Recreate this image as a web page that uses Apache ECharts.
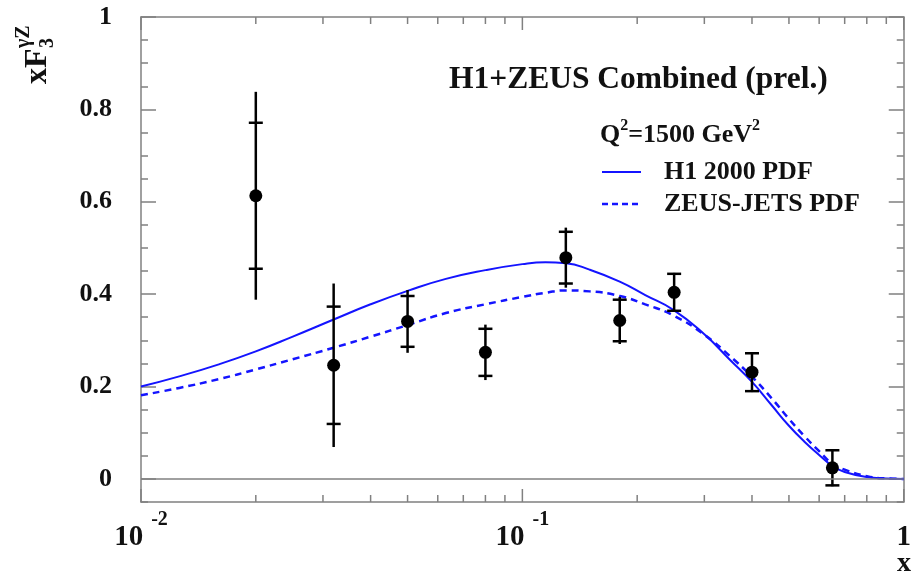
<!DOCTYPE html>
<html><head><meta charset="utf-8">
<script src="https://cdn.jsdelivr.net/npm/echarts@6/dist/echarts.min.js"></script>
<style>html,body{margin:0;padding:0;background:#fff}#c{width:914px;height:574px}</style>
</head><body><div id="c"></div>
<script>
// ---- data ----
const pointX = [0.02, 0.032, 0.05, 0.08, 0.13, 0.18, 0.25, 0.4, 0.65];
const pointY = [0.613, 0.246, 0.341, 0.274, 0.479, 0.343, 0.404, 0.231, 0.024];
const statErr = [0.158, 0.127, 0.055, 0.051, 0.056, 0.045, 0.040, 0.041, 0.038];
const totErr  = [0.225, 0.177, 0.068, 0.060, 0.065, 0.051, 0.042, 0.043, 0.040];

const curveX = [0.01, 0.0126, 0.016, 0.02, 0.025, 0.032, 0.04, 0.05, 0.063, 0.08, 0.1, 0.115, 0.13, 0.15, 0.18, 0.21, 0.25, 0.3, 0.35, 0.4, 0.45, 0.5, 0.55, 0.6, 0.65, 0.7, 0.8, 0.9, 1.0];
const h1Curve = [0.200, 0.222, 0.248, 0.276, 0.308, 0.345, 0.378, 0.407, 0.433, 0.452, 0.465, 0.469, 0.467, 0.453, 0.427, 0.398, 0.365, 0.313, 0.258, 0.210, 0.160, 0.115, 0.080, 0.052, 0.028, 0.015, 0.004, 0.001, 0.0];
const zeusCurve = [0.181, 0.197, 0.216, 0.237, 0.259, 0.284, 0.308, 0.333, 0.359, 0.378, 0.394, 0.403, 0.408, 0.406, 0.396, 0.378, 0.353, 0.312, 0.266, 0.221, 0.175, 0.130, 0.092, 0.060, 0.033, 0.020, 0.006, 0.001, 0.0];

const xMajorTicks = [0.01, 0.1, 1];
const xMinorTicks = [0.02, 0.03, 0.04, 0.05, 0.06, 0.07, 0.08, 0.09, 0.2, 0.3, 0.4, 0.5, 0.6, 0.7, 0.8, 0.9];
const yMajorTicks = [0, 0.2, 0.4, 0.6, 0.8, 1];
const X_MIN = 0.01, X_MAX = 1, Y_MIN = -0.05, Y_MAX = 1;

const legendNames = ['H1 2000 PDF', 'ZEUS-JETS PDF'];
const titleText = 'H1+ZEUS Combined (prel.)';

// ---- style ----
const FONT = "'Liberation Serif', 'Times New Roman', serif";
const GRAY = '#808080';
const BLUE = '#1414ff';
const INK = '#111';
const DASH = [7, 5];
const MAJOR_LEN = 13, MINOR_LEN = 7;

const chart = echarts.init(document.getElementById('c'), null, {renderer: 'canvas'});

function xLabel(v) {
  const e = Math.round(Math.log10(v));
  if (e === 0) return '{b|1}';
  return '{b|10}{s|' + e + '}';
}
const xRich = {
  b: {fontFamily: FONT, fontWeight: 'bold', fontSize: 29, color: INK, lineHeight: 42, verticalAlign: 'bottom'},
  s: {fontFamily: FONT, fontWeight: 'bold', fontSize: 20, color: INK, lineHeight: 42, verticalAlign: 'top', padding: [0, 0, 0, 8]}
};

const axisLineStyle = {color: GRAY, width: 1.5};

const xTickData = xMajorTicks.map(v => [v, 0, 1]).concat(xMinorTicks.map(v => [v, 0, 0]));

const option = {
  animation: false,
  backgroundColor: '#fff',
  grid: {left: 141, right: 6, top: 17, bottom: 72, containLabel: false},
  xAxis: [
    {type: 'log', logBase: 10, min: X_MIN, max: X_MAX, position: 'bottom',
     axisLine: {show: true, onZero: false, lineStyle: axisLineStyle},
     axisTick: {show: false},
     axisLabel: {show: true, margin: 8, formatter: xLabel, rich: xRich, showMinLabel: true, showMaxLabel: true},
     splitLine: {show: false}, minorTick: {show: false}},
    {type: 'log', logBase: 10, min: X_MIN, max: X_MAX, position: 'top',
     axisLine: {show: true, onZero: false, lineStyle: axisLineStyle},
     axisTick: {show: false},
     axisLabel: {show: false}, splitLine: {show: false}}
  ],
  yAxis: [
    {type: 'value', min: Y_MIN, max: Y_MAX, interval: 0.05, position: 'left',
     axisLine: {show: true, onZero: false, lineStyle: axisLineStyle},
     axisTick: {show: true, inside: true, length: 7, lineStyle: axisLineStyle},
     axisLabel: {show: true, margin: 29, fontFamily: FONT, fontWeight: 'bold', fontSize: 26, color: INK,
       formatter: function (v) {
         const r = v / 0.2;
         if (Math.abs(r - Math.round(r)) < 1e-6 && v > -0.01) return String(Math.round(v * 10) / 10);
         return '';
       }},
     splitLine: {show: false}},
    {type: 'value', min: Y_MIN, max: Y_MAX, position: 'left',
     axisLine: {show: false, onZero: false},
     axisTick: {show: true, inside: true, length: 15, lineStyle: axisLineStyle, customValues: yMajorTicks},
     axisLabel: {show: false, customValues: yMajorTicks}, splitLine: {show: false}},
    {type: 'value', min: Y_MIN, max: Y_MAX, interval: 0.05, position: 'right',
     axisLine: {show: true, onZero: false, lineStyle: axisLineStyle},
     axisTick: {show: true, inside: true, length: 7, lineStyle: axisLineStyle},
     axisLabel: {show: false}, splitLine: {show: false}},
    {type: 'value', min: Y_MIN, max: Y_MAX, position: 'right',
     axisLine: {show: false, onZero: false},
     axisTick: {show: true, inside: true, length: 15, lineStyle: axisLineStyle, customValues: yMajorTicks},
     axisLabel: {show: false, customValues: yMajorTicks}, splitLine: {show: false}}
  ],
  graphic: [
    {type: 'text', x: 449, y: 80, style: {text: titleText, font: 'bold 31.5px ' + FONT, fill: INK, verticalAlign: 'middle'}},
    {type: 'text', x: 600, y: 133, style: {
      text: '{b|Q}{s|2}{b|=1500 GeV}{s|2}', verticalAlign: 'middle',
      rich: {
        b: {fontFamily: FONT, fontWeight: 'bold', fontSize: 26, fill: INK, lineHeight: 30, verticalAlign: 'bottom'},
        s: {fontFamily: FONT, fontWeight: 'bold', fontSize: 16, fill: INK, lineHeight: 30, verticalAlign: 'top'}
      }}},
    // legend keys
    {type: 'line', shape: {x1: 602, y1: 172, x2: 641, y2: 172}, style: {stroke: BLUE, lineWidth: 2}},
    {type: 'text', x: 664, y: 172, style: {text: legendNames[0], font: 'bold 26px ' + FONT, fill: INK, verticalAlign: 'middle'}},
    {type: 'line', shape: {x1: 602, y1: 204, x2: 641, y2: 204}, style: {stroke: BLUE, lineWidth: 2.5, lineDash: [6, 4]}},
    {type: 'text', x: 664, y: 204, style: {text: legendNames[1], font: 'bold 26px ' + FONT, fill: INK, verticalAlign: 'middle'}},
    // y axis name
    {type: 'group', x: 38, y: 84, rotation: Math.PI / 2, children: [
      {type: 'text', x: 0, y: 0, style: {text: 'xF', font: 'bold 32px ' + FONT, fill: INK, verticalAlign: 'middle', align: 'left'}},
      {type: 'text', x: 36, y: 10, style: {text: '3', font: 'bold 20px ' + FONT, fill: INK, verticalAlign: 'middle', align: 'left'}},
      {type: 'text', x: 36, y: -14, style: {text: 'γZ', font: 'bold 20px ' + FONT, fill: INK, verticalAlign: 'middle', align: 'left'}}
    ]},
    {type: 'text', x: 904, y: 564, style: {text: 'x', font: 'bold 28px ' + FONT, fill: INK, verticalAlign: 'middle', align: 'center'}}
  ],
  series: [
    {name: legendNames[0], type: 'line', xAxisIndex: 0, yAxisIndex: 0, smooth: true, symbol: 'none', showSymbol: false,
     lineStyle: {color: BLUE, width: 2}, itemStyle: {color: BLUE},
     data: curveX.map((x, i) => [x, h1Curve[i]]), z: 3},
    {name: legendNames[1], type: 'line', xAxisIndex: 0, yAxisIndex: 0, smooth: true, symbol: 'none', showSymbol: false,
     lineStyle: {color: BLUE, width: 2.5, type: DASH}, itemStyle: {color: BLUE},
     data: curveX.map((x, i) => [x, zeusCurve[i]]), z: 3},
    {name: 'xTicks', type: 'custom', xAxisIndex: 0, yAxisIndex: 0, silent: true, clip: false,
     data: xTickData, encode: {x: 0, y: 1},
     renderItem: function (params, api) {
       const v = api.value(0);
       const len = api.value(2) ? MAJOR_LEN : MINOR_LEN;
       const b = api.coord([v, Y_MIN]);
       const t = api.coord([v, Y_MAX]);
       const st = {stroke: GRAY, lineWidth: 1.5};
       return {type: 'group', children: [
         {type: 'line', shape: {x1: b[0], y1: b[1], x2: b[0], y2: b[1] - len}, style: st},
         {type: 'line', shape: {x1: t[0], y1: t[1], x2: t[0], y2: t[1] + len}, style: st}
       ]};
     }, z: 2},
    {name: 'errors', type: 'custom', xAxisIndex: 0, yAxisIndex: 0, silent: true, clip: false,
     data: pointX.map((x, i) => [x, pointY[i], statErr[i], totErr[i]]), encode: {x: 0, y: 1},
     renderItem: function (params, api) {
       const x = api.value(0), y = api.value(1), s = api.value(2), t = api.value(3);
       const pT = api.coord([x, y + t]), pB = api.coord([x, y - t]);
       const sT = api.coord([x, y + s]), sB = api.coord([x, y - s]);
       const hw = 7;
       const st = {stroke: '#000', lineWidth: 2.5};
       return {type: 'group', children: [
         {type: 'line', shape: {x1: pT[0], y1: pT[1], x2: pB[0], y2: pB[1]}, style: st},
         {type: 'line', shape: {x1: sT[0] - hw, y1: sT[1], x2: sT[0] + hw, y2: sT[1]}, style: st},
         {type: 'line', shape: {x1: sB[0] - hw, y1: sB[1], x2: sB[0] + hw, y2: sB[1]}, style: st}
       ]};
     }, z: 4},
    {name: 'data', type: 'scatter', xAxisIndex: 0, yAxisIndex: 0, symbol: 'circle', symbolSize: 13,
     itemStyle: {color: '#000', opacity: 1}, data: pointX.map((x, i) => [x, pointY[i]]), z: 5,
     markLine: {silent: true, symbol: 'none', label: {show: false},
       lineStyle: {color: GRAY, width: 1.5, type: 'solid'}, data: [{yAxis: 0}]}}
  ]
};
chart.setOption(option);
</script>
</body></html>
